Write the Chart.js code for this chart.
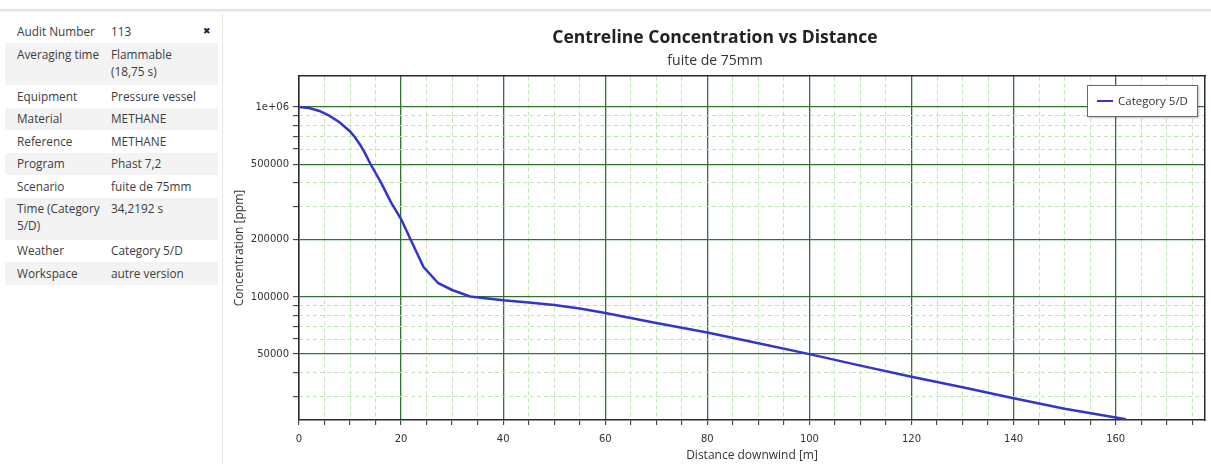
<!DOCTYPE html>
<html>
<head>
<meta charset="utf-8">
<script src="https://cdn.jsdelivr.net/npm/chart.js@4.4.1/dist/chart.umd.min.js"></script>
<style>
  body { margin: 0; width: 1211px; height: 464px; background: #fff; overflow: hidden; position: relative; font-family: "Open Sans", sans-serif; }
  #topline { position: absolute; left: 0; top: 9px; width: 1211px; height: 3px; background: linear-gradient(#dcdcdc, #f2f2f2); }
  #info { position: absolute; left: 5px; top: 14px; width: 217px; height: 450px; border-right: 1px solid #e4e4e4; }
  .row { position: absolute; left: 0; width: 213px; font-size: 11.8px; line-height: 17px; color: #3c3c3c; }
  .row.alt { background: #f3f3f3; }
  .row .lab { position: absolute; left: 12px; top: 2.5px; width: 90px; }
  .row .val { position: absolute; left: 106px; top: 2.5px; width: 88px; }
  .row .close { position: absolute; left: 198px; top: 2px; font-family: "DejaVu Sans"; font-size: 9px; color: #222; }
  #chartBox { position: absolute; left: 225px; top: 14px; width: 986px; height: 450px; }
  #legend { position: absolute; left: 1087px; top: 85px; width: 109px; height: 30px; border: 1px solid #6a6a6a; background: #fff; box-shadow: 1px 1px 2px rgba(0,0,0,0.25); font-size: 11.5px; color: #333; }
  #legend .item { position: absolute; left: 9px; top: 7px; white-space: nowrap; }
  #legend .swatch { display: inline-block; width: 16px; height: 2px; vertical-align: middle; margin-right: 5px; position: relative; top: -1px; }
</style>
</head>
<body>
<div id="topline"></div>
<div id="info"></div>
<div id="chartBox"><canvas id="chart" width="986" height="450"></canvas></div>
<div id="legend"></div>

<script>
// ── Panneau d'information (gauche) ─────────────────────────
const infoLabels = ['Audit Number', 'Averaging time', 'Equipment', 'Material', 'Reference',
                    'Program', 'Scenario', 'Time (Category 5/D)', 'Weather', 'Workspace'];
const infoValues = ['113', 'Flammable (18,75 s)', 'Pressure vessel', 'METHANE', 'METHANE',
                    'Phast 7,2', 'fuite de 75mm', '34,2192 s', 'Category 5/D', 'autre version'];

// ── Données du graphique ───────────────────────────────────
const seriesLabel = 'Category 5/D';
const distance = [0, 2, 4, 6, 8, 10, 11, 12, 13, 14, 16, 18, 20, 22, 24.4, 27.3, 30, 33.5,
                  40, 45, 50, 55, 60, 70, 80, 90, 100, 110, 120, 130, 140, 150, 162];
const concentration = [1000000, 988000, 953000, 897000, 829000, 743000, 691000, 631000, 566000, 501000,
                       403000, 316000, 257000, 197000, 143800, 118100, 108800, 100600,
                       96000, 93600, 90800, 87000, 82300, 73000, 65000, 57000, 50000, 43500, 38000, 33500, 29300, 25800, 22700];

// Graduations
const xMajorTicks = [0, 20, 40, 60, 80, 100, 120, 140, 160];
const xMinorStep = 5;
const yMajorTicks = [50000, 100000, 200000, 500000, 1000000];
const yTickLabels = ['50000', '100000', '200000', '500000', '1e+06'];
const yMinorTicks = [30000, 40000, 60000, 70000, 80000, 90000, 300000, 400000, 600000, 700000, 800000, 900000];

const xMin = 0, xMax = 177.5;
const yMin = 22500, yMax = 1456000;

// ── Rendu du panneau ───────────────────────────────────────
const rowHeights = [22.5, 42, 22.5, 22.5, 22.5, 22.5, 22.5, 42, 22.5, 22.5];
const info = document.getElementById('info');
let rowTop = 6.5;
infoLabels.forEach((lab, i) => {
    const row = document.createElement('div');
    row.className = 'row' + (i % 2 === 1 ? ' alt' : '');
    row.style.top = rowTop + 'px';
    row.style.height = rowHeights[i] + 'px';
    row.innerHTML = `<div class="lab">${lab}</div><div class="val">${infoValues[i]}</div>` +
                    (i === 0 ? '<div class="close">✖</div>' : '');
    info.appendChild(row);
    rowTop += rowHeights[i];
});

// ── Graphique ──────────────────────────────────────────────
const MAJOR = '#2f742f';
const MINOR = '#bde6b3';
const AXIS  = '#2a2a2a';

const xAllTicks = [];
for (let v = 0; v <= 175; v += xMinorStep) xAllTicks.push(v);
const xMinorTicks = xAllTicks.filter(v => !xMajorTicks.includes(v));
const yAllTicks = [...yMinorTicks, ...yMajorTicks].sort((a, b) => a - b);

const points = distance.map((d, i) => ({ x: d, y: concentration[i] }));

const htmlLegend = {
    id: 'htmlLegend',
    afterUpdate(chart) {
        const box = document.getElementById('legend');
        const items = chart.options.plugins.legend.labels.generateLabels(chart);
        box.innerHTML = items.map(it =>
            `<div class="item"><span class="swatch" style="background:${it.strokeStyle}"></span>${it.text}</div>`
        ).join('');
    }
};

new Chart(document.getElementById('chart'), {
    type: 'line',
    data: {
        datasets: [{
            label: seriesLabel,
            data: points,
            borderColor: '#3434cc',
            backgroundColor: '#3434cc',
            borderWidth: 2.5,
            pointRadius: 0,
            tension: 0,
            fill: false
        }]
    },
    options: {
        responsive: false,
        animation: false,
        layout: { padding: { left: 0, right: 6, top: 0, bottom: 0 } },
        plugins: {
            legend: { display: false },
            tooltip: { enabled: false },
            title: {
                display: true,
                text: 'Centreline Concentration vs Distance',
                color: '#222',
                font: { family: 'Open Sans', size: 17.5, weight: 'bold' },
                padding: { top: 13.5, bottom: 4 }
            },
            subtitle: {
                display: true,
                text: 'fuite de 75mm',
                color: '#333',
                font: { family: 'Open Sans', size: 14 },
                padding: { top: 0, bottom: 6.7 }
            }
        },
        scales: {
            x: {
                type: 'linear',
                position: 'bottom',
                min: xMin, max: xMax,
                afterBuildTicks: s => { s.ticks = xAllTicks.map(v => ({ value: v })); },
                afterFit: s => { s.height = 44; },
                ticks: {
                    autoSkip: false, maxRotation: 0, padding: 8,
                    color: '#333',
                    font: { family: 'DejaVu Sans', size: 10 },
                    callback: v => xMajorTicks.includes(v) ? String(v) : ''
                },
                grid: {
                    color: c => (c.tick && xMajorTicks.includes(c.tick.value)) ? MAJOR : 'rgba(0,0,0,0)',
                    lineWidth: 1.3,
                    tickColor: AXIS, tickLength: 5, tickWidth: 1
                },
                border: { color: AXIS, width: 1.5 },
                title: {
                    display: true, text: 'Distance downwind [m]', color: '#333',
                    font: { family: 'Open Sans', size: 12 },
                    padding: { top: 0, bottom: 1 }
                }
            },
            x2: {
                type: 'linear',
                position: 'top',
                min: xMin, max: xMax,
                afterBuildTicks: s => { s.ticks = xMinorTicks.map(v => ({ value: v })); },
                afterFit: s => { s.height = 0; },
                ticks: { display: false },
                grid: { color: MINOR, lineWidth: 1, drawTicks: false },
                border: { color: AXIS, width: 1.5, dash: [4, 3] }
            },
            y: {
                type: 'logarithmic',
                position: 'left',
                min: yMin, max: yMax,
                afterBuildTicks: s => { s.ticks = yAllTicks.map(v => ({ value: v })); },
                afterFit: s => { s.width = 74; },
                ticks: {
                    autoSkip: false, padding: 4,
                    color: '#333',
                    font: { family: 'DejaVu Sans', size: 10 },
                    callback: v => {
                        const i = yMajorTicks.indexOf(v);
                        return i >= 0 ? yTickLabels[i] : '';
                    }
                },
                grid: {
                    color: c => (c.tick && yMajorTicks.includes(c.tick.value)) ? MAJOR : 'rgba(0,0,0,0)',
                    lineWidth: 1.3,
                    tickColor: AXIS, tickLength: 6, tickWidth: 1
                },
                border: { color: AXIS, width: 1.5 },
                title: {
                    display: true, text: 'Concentration [ppm]', color: '#333',
                    font: { family: 'Open Sans', size: 12 },
                    padding: { top: 7, bottom: 0 }
                }
            },
            y2: {
                type: 'logarithmic',
                position: 'right',
                min: yMin, max: yMax,
                afterBuildTicks: s => { s.ticks = yMinorTicks.map(v => ({ value: v })); },
                afterFit: s => { s.width = 0; },
                ticks: { display: false },
                grid: { color: MINOR, lineWidth: 1, drawTicks: false },
                border: { color: AXIS, width: 1.5, dash: [4, 3] }
            }
        }
    },
    plugins: [htmlLegend]
});
</script>
</body>
</html>
